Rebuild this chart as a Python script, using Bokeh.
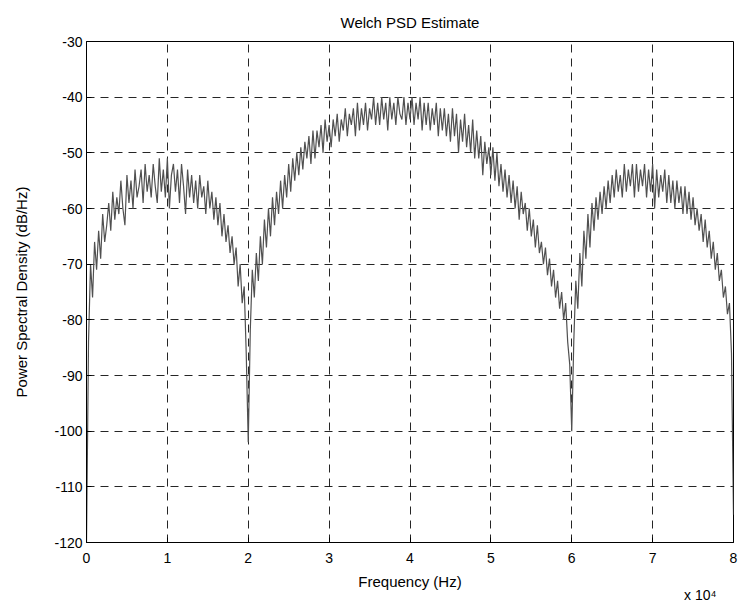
import numpy as np
from bokeh.plotting import figure
from bokeh.models import Range1d, FixedTicker, Title, ColumnDataSource
from bokeh.embed import file_html
from bokeh.resources import INLINE

# ---- data ----
freq_step_hz = 250
psd_0_20k = [
    -120, -84, -70, -76, -66, -71, -64, -69,
    -61, -66, -63, -59, -64, -57, -62, -58,
    -61, -55, -60, -63, -54, -59, -55, -60,
    -53, -58, -56, -53, -59, -52, -57, -54,
    -58, -52, -56, -59, -51, -57, -53, -58,
    -51, -60, -54, -52, -57, -53, -59, -52,
    -56, -61, -53, -58, -54, -59, -55, -60,
    -54, -58, -56, -61, -55, -60, -57, -62,
    -58, -63, -59, -65, -61, -66, -63, -68,
    -65, -70, -67, -74, -70, -77, -74, -86,
    -102,
]
psd_20k_60k = [
    -82, -71, -76, -68, -73, -65, -70, -62,
    -67, -60, -65, -58, -63, -57, -61, -55,
    -60, -54, -58, -52, -57, -51, -55, -50,
    -54, -49, -53, -48, -51, -47, -52, -46,
    -51, -46, -49, -45, -50, -44, -48, -45,
    -49, -44, -47, -43, -48, -44, -46, -42,
    -47, -43, -45, -42, -47, -41, -46, -42,
    -45, -41, -46, -42, -44, -40, -45, -41,
    -45, -40, -44, -41, -46, -40, -44, -41,
    -45, -40, -43, -44, -40, -45, -41, -44,
    -40, -45, -41, -44, -40, -46, -41, -45,
    -41, -46, -42, -45, -41, -47, -42, -46,
    -42, -47, -43, -48, -42, -47, -43, -50,
    -44, -48, -43, -49, -45, -50, -44, -51,
    -46, -51, -47, -54, -48, -52, -49, -54,
    -49, -55, -50, -56, -52, -57, -53, -58,
    -54, -59, -55, -60, -56, -62, -57, -61,
    -59, -64, -60, -65, -62, -67, -63, -68,
    -66, -70, -67, -72, -69, -74, -71, -76,
    -73, -78, -75, -80, -77, -84, -88, -100,
]
psd_60k_80k = [
    -84, -73, -78, -68, -74, -64, -69, -61,
    -67, -59, -64, -58, -62, -57, -61, -56,
    -60, -55, -59, -54, -58, -53, -57, -54,
    -58, -52, -57, -53, -56, -52, -58, -52,
    -57, -53, -56, -52, -58, -53, -57, -52,
    -60, -53, -58, -54, -57, -53, -59, -54,
    -59, -55, -60, -55, -59, -56, -61, -56,
    -61, -57, -62, -58, -63, -60, -64, -61,
    -66, -62, -67, -64, -69, -66, -71, -68,
    -73, -71, -76, -74, -79, -77, -86, -115,
]
x_ticks = [0, 10000, 20000, 30000, 40000, 50000, 60000, 70000, 80000]
x_tick_labels = ["0", "1", "2", "3", "4", "5", "6", "7", "8"]
y_ticks = [-120, -110, -100, -90, -80, -70, -60, -50, -40, -30]
y_tick_labels = ["-120", "-110", "-100", "-90", "-80", "-70", "-60", "-50", "-40", "-30"]

psd = psd_0_20k + psd_20k_60k + psd_60k_80k
freq = np.arange(len(psd)) * freq_step_hz
src = ColumnDataSource(data=dict(f=freq, p=psd))

FONT = "Liberation Sans"

p = figure(width=742, height=604, output_backend="svg", toolbar_location=None,
           x_range=Range1d(0, 80000), y_range=Range1d(-120, -30),
           min_border_left=86, min_border_right=9, min_border_top=41,
           min_border_bottom=62, title="Welch PSD Estimate")
p.background_fill_color = "white"
p.border_fill_color = "white"
p.outline_line_color = "black"
p.outline_line_width = 1

p.title.align = "center"
p.title.text_font = FONT
p.title.text_font_size = "15px"
p.title.text_font_style = "normal"
p.title.text_color = "black"
p.title.standoff = 22

for ax in (p.xaxis[0], p.yaxis[0]):
    ax.major_label_text_font = FONT
    ax.major_label_text_font_size = "14px"
    ax.major_label_text_color = "black"
    ax.axis_label_text_font = FONT
    ax.axis_label_text_font_size = "15px"
    ax.axis_label_text_font_style = "normal"
    ax.axis_label_text_color = "black"
    ax.major_tick_in = 5
    ax.major_tick_out = 0
    ax.minor_tick_in = 0
    ax.minor_tick_out = 0
    ax.axis_line_color = "black"
    ax.major_tick_line_color = "black"

p.xaxis.ticker = FixedTicker(ticks=x_ticks)
p.xaxis.major_label_overrides = {t: s for t, s in zip(x_ticks, x_tick_labels)}
p.yaxis.ticker = FixedTicker(ticks=y_ticks)
p.yaxis.major_label_overrides = {t: s for t, s in zip(y_ticks, y_tick_labels)}
p.xaxis.axis_label = "Frequency (Hz)"
p.yaxis.axis_label = "Power Spectral Density (dB/Hz)"
p.xaxis.major_label_standoff = 10
p.xaxis.axis_label_standoff = 7
p.yaxis.major_label_standoff = 4
p.yaxis.axis_label_standoff = 21

# exponent note under the right end of the x axis
exp_note = Title(text="x 10\u2074", align="right", offset=17, standoff=-15,
                 text_font=FONT, text_font_size="14px", text_font_style="normal",
                 text_color="black")
p.add_layout(exp_note, "below")

for g in (p.xgrid[0], p.ygrid[0]):
    g.grid_line_color = "black"
    g.grid_line_dash = "8 6"
    g.grid_line_width = 1
    g.grid_line_alpha = 0.85

p.line("f", "p", source=src, line_color="#505050", line_width=1.2)

open("out.html", "w").write(file_html(p, INLINE))
